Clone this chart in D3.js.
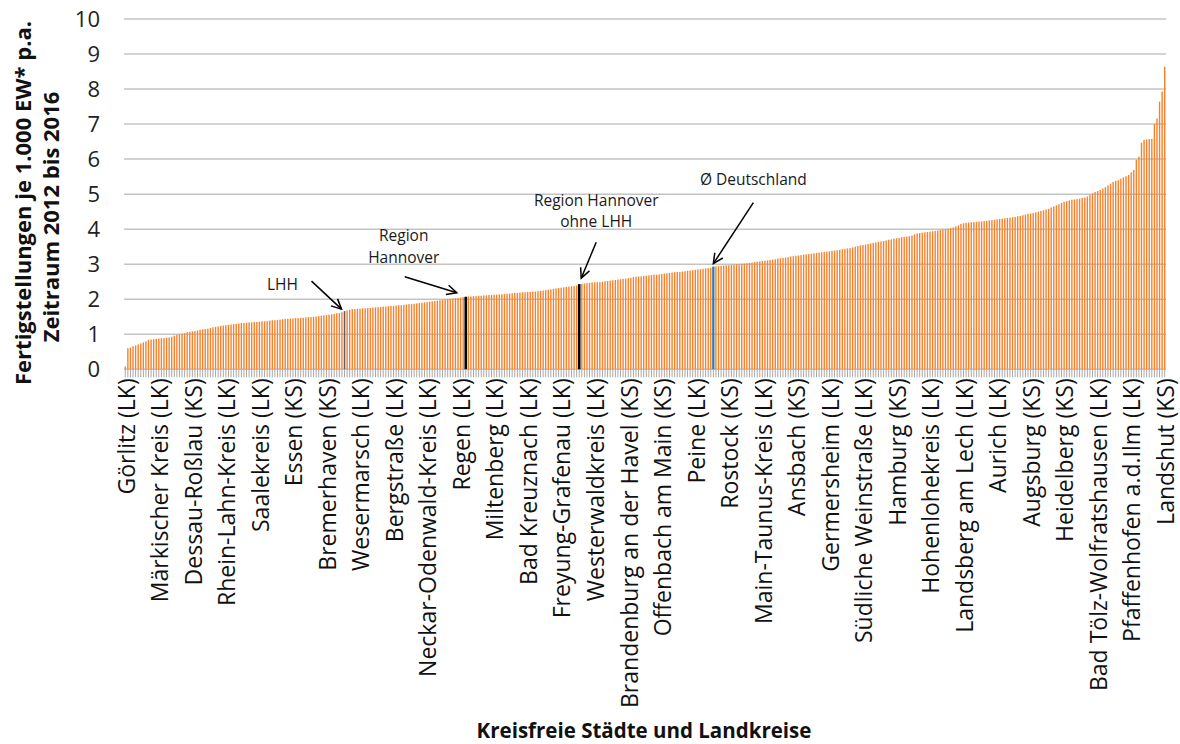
<!DOCTYPE html>
<html>
<head>
<meta charset="utf-8">
<script src="https://cdn.jsdelivr.net/npm/d3@7"></script>
<style>
  body { margin: 0; background: #fff; }
  svg text { font-family: "Open Sans", sans-serif; }
</style>
</head>
<body>
<svg id="chart" width="1180" height="744"></svg>
<script>
// tick labels, one every 13th bar
var tickLabels = ["Görlitz (LK)", "Märkischer Kreis (LK)", "Dessau-Roßlau (KS)", "Rhein-Lahn-Kreis (LK)",
  "Saalekreis (LK)", "Essen (KS)", "Bremerhaven (KS)", "Wesermarsch (LK)", "Bergstraße (LK)",
  "Neckar-Odenwald-Kreis (LK)", "Regen (LK)", "Miltenberg (LK)", "Bad Kreuznach (LK)",
  "Freyung-Grafenau (LK)", "Westerwaldkreis (LK)", "Brandenburg an der Havel (KS)",
  "Offenbach am Main (KS)", "Peine (LK)", "Rostock (KS)", "Main-Taunus-Kreis (LK)", "Ansbach (KS)",
  "Germersheim (LK)", "Südliche Weinstraße (LK)", "Hamburg (KS)", "Hohenlohekreis (LK)",
  "Landsberg am Lech (LK)", "Aurich (LK)", "Augsburg (KS)", "Heidelberg (KS)",
  "Bad Tölz-Wolfratshausen (LK)", "Pfaffenhofen a.d.Ilm (LK)", "Landshut (KS)"];

// Fertigstellungen je 1.000 EW p.a., sorted
var values = [
  0.08, 0.60, 0.62, 0.66, 0.68, 0.71, 0.74, 0.77, 0.80, 0.84, 0.85, 0.86, 0.87,
  0.88, 0.89, 0.89, 0.90, 0.91, 0.93, 0.96, 0.98, 1.00, 1.01, 1.03, 1.06, 1.07,
  1.08, 1.09, 1.11, 1.13, 1.14, 1.15, 1.16, 1.18, 1.20, 1.21, 1.22, 1.24, 1.25,
  1.26, 1.27, 1.28, 1.29, 1.30, 1.31, 1.32, 1.32, 1.33, 1.34, 1.34, 1.35, 1.35,
  1.36, 1.37, 1.37, 1.38, 1.39, 1.40, 1.40, 1.41, 1.42, 1.43, 1.44, 1.44, 1.45,
  1.45, 1.46, 1.46, 1.47, 1.47, 1.48, 1.49, 1.49, 1.50, 1.51, 1.52, 1.53, 1.54,
  1.55, 1.56, 1.57, 1.58, 1.60, 1.61, 1.63, 1.66, 1.68, 1.70, 1.72, 1.72, 1.73,
  1.73, 1.74, 1.74, 1.75, 1.75, 1.76, 1.77, 1.77, 1.78, 1.79, 1.79, 1.80, 1.81,
  1.81, 1.82, 1.83, 1.83, 1.84, 1.85, 1.86, 1.86, 1.87, 1.88, 1.89, 1.90, 1.91,
  1.92, 1.93, 1.94, 1.95, 1.96, 1.97, 1.98, 1.99, 2.00, 2.01, 2.02, 2.03, 2.04,
  2.05, 2.06, 2.07, 2.08, 2.08, 2.09, 2.09, 2.10, 2.10, 2.11, 2.11, 2.12, 2.12,
  2.13, 2.13, 2.14, 2.14, 2.15, 2.16, 2.16, 2.17, 2.18, 2.18, 2.19, 2.20, 2.20,
  2.21, 2.21, 2.22, 2.22, 2.23, 2.24, 2.25, 2.26, 2.27, 2.28, 2.30, 2.31, 2.32,
  2.33, 2.34, 2.35, 2.36, 2.37, 2.38, 2.39, 2.43, 2.44, 2.45, 2.46, 2.47, 2.48,
  2.48, 2.49, 2.49, 2.50, 2.51, 2.52, 2.53, 2.54, 2.55, 2.56, 2.57, 2.58, 2.59,
  2.60, 2.61, 2.63, 2.64, 2.65, 2.65, 2.66, 2.67, 2.68, 2.69, 2.70, 2.70, 2.71,
  2.72, 2.73, 2.74, 2.75, 2.76, 2.77, 2.78, 2.78, 2.79, 2.80, 2.81, 2.82, 2.83,
  2.84, 2.85, 2.86, 2.87, 2.88, 2.89, 2.90, 2.93, 2.94, 2.95, 2.95, 2.96, 2.97,
  2.97, 2.98, 2.99, 3.00, 3.00, 3.01, 3.02, 3.03, 3.04, 3.05, 3.06, 3.07, 3.08,
  3.09, 3.10, 3.11, 3.12, 3.13, 3.14, 3.16, 3.17, 3.18, 3.19, 3.20, 3.22, 3.23,
  3.24, 3.25, 3.26, 3.27, 3.28, 3.29, 3.30, 3.31, 3.32, 3.33, 3.34, 3.35, 3.36,
  3.37, 3.38, 3.39, 3.40, 3.41, 3.43, 3.44, 3.45, 3.46, 3.48, 3.50, 3.52, 3.54,
  3.55, 3.56, 3.58, 3.59, 3.61, 3.62, 3.64, 3.65, 3.66, 3.68, 3.70, 3.71, 3.73,
  3.74, 3.75, 3.77, 3.78, 3.79, 3.80, 3.82, 3.85, 3.88, 3.89, 3.90, 3.91, 3.92,
  3.93, 3.94, 3.95, 3.96, 3.98, 3.99, 4.00, 4.01, 4.03, 4.05, 4.08, 4.11, 4.15,
  4.17, 4.18, 4.19, 4.20, 4.20, 4.21, 4.22, 4.22, 4.23, 4.24, 4.25, 4.26, 4.27,
  4.28, 4.29, 4.30, 4.31, 4.32, 4.33, 4.34, 4.35, 4.37, 4.38, 4.40, 4.42, 4.44,
  4.45, 4.46, 4.48, 4.50, 4.52, 4.54, 4.56, 4.58, 4.62, 4.65, 4.68, 4.71, 4.75,
  4.78, 4.80, 4.82, 4.84, 4.85, 4.86, 4.87, 4.89, 4.90, 4.93, 4.98, 5.02, 5.06,
  5.09, 5.12, 5.16, 5.20, 5.25, 5.30, 5.35, 5.38, 5.40, 5.44, 5.48, 5.51, 5.55,
  5.62, 5.69, 5.98, 6.07, 6.47, 6.55, 6.56, 6.57, 6.58, 7.00, 7.16, 7.64, 7.93,
  8.64
];

var yTicks = [0, 1, 2, 3, 4, 5, 6, 7, 8, 9, 10];

// marked bars
var markIndex = [85, 132, 176, 228];
var markLines = [["LHH"], ["Region", "Hannover"], ["Region Hannover", "ohne LHH"], ["Ø Deutschland"]];

var svg = d3.select("#chart");
var plotLeft = 124, plotRight = 1166, plotTop = 19, plotBottom = 369.3;

var x = d3.scaleBand()
  .domain(d3.range(values.length))
  .range([plotLeft, plotRight]);

var y = d3.scaleLinear()
  .domain([0, 10])
  .range([plotBottom, plotTop]);

// gridlines
svg.append("g")
  .selectAll("line")
  .data(yTicks)
  .enter()
  .append("line")
  .attr("x1", plotLeft)
  .attr("x2", plotRight)
  .attr("y1", function(d) { return y(d); })
  .attr("y2", function(d) { return y(d); })
  .attr("stroke", "#c4c4c4")
  .attr("stroke-width", 1.5);

// y labels
svg.append("g")
  .selectAll("text")
  .data(yTicks)
  .enter()
  .append("text")
  .attr("x", 100)
  .attr("y", function(d) { return y(d); })
  .attr("dy", "0.36em")
  .attr("text-anchor", "end")
  .style("font-size", "22px")
  .style("fill", "#222")
  .text(function(d) { return d; });

// bars
var bw = x.bandwidth();
var barW = 1.4;
svg.append("g")
  .selectAll("rect")
  .data(values)
  .enter()
  .append("rect")
  .attr("x", function(d, i) { return x(i) + (bw - barW) / 2; })
  .attr("width", barW)
  .attr("y", function(d) { return y(d); })
  .attr("height", function(d) { return y(0) - y(d); })
  .attr("fill", "#f6812c");

// marked bars on top
var markStyle = [
  { fill: "#56616d", w: 1.4 },
  { fill: "#000", w: 2.6 },
  { fill: "#000", w: 2.6 },
  { fill: "#2e75b6", w: 2.2 }
];
svg.append("g")
  .selectAll("rect")
  .data(markIndex)
  .enter()
  .append("rect")
  .attr("x", function(d, i) { return x(d) + (bw - markStyle[i].w) / 2; })
  .attr("width", function(d, i) { return markStyle[i].w; })
  .attr("y", function(d) { return y(values[d]); })
  .attr("height", function(d) { return y(0) - y(values[d]); })
  .attr("fill", function(d, i) { return markStyle[i].fill; });

// category ticks
var axis = svg.append("g")
  .attr("transform", "translate(0," + plotBottom + ")")
  .call(d3.axisBottom(x).tickSize(8).tickFormat(""));
axis.select(".domain").remove();
axis.selectAll(".tick line").attr("stroke", "#a8a8a8");

// category labels (every 13th)
svg.append("g")
  .selectAll("text")
  .data(tickLabels)
  .enter()
  .append("text")
  .attr("transform", function(d, i) {
    return "translate(" + (x(i * 13) + bw / 2 + 1) + "," + (plotBottom + 9) + ")rotate(-90)";
  })
  .attr("dy", "0.36em")
  .attr("text-anchor", "end")
  .style("font-size", "23px")
  .style("fill", "#111")
  .text(function(d) { return d; });

// annotations: offsets relative to the bar top
var notePos = [
  { tx: -62, ty: -27, sx: -33, sy: -30, ex: -3, ey: -2 },
  { tx: -62, ty: -61, sx: -61, sy: -20, ex: -9, ey: -4 },
  { tx: 17, ty: -84, sx: 17, sy: -42, ex: 2, ey: -6 },
  { tx: 40, ty: -87, sx: 40, sy: -64, ex: 0, ey: -3 }
];

var notes = svg.append("g");
markIndex.forEach(function(idx, i) {
  var bx = x(idx) + bw / 2, by = y(values[idx]);
  var p = notePos[i];
  var t = notes.append("text")
    .attr("text-anchor", "middle")
    .style("font-size", "15.5px")
    .style("fill", "#1a1a1a");
  markLines[i].forEach(function(line, j) {
    t.append("tspan")
      .attr("x", bx + p.tx)
      .attr("y", by + p.ty + j * 21.5)
      .attr("dy", "0.35em")
      .text(line);
  });
  var sx = bx + p.sx, sy = by + p.sy, ex = bx + p.ex, ey = by + p.ey;
  var ang = Math.atan2(ey - sy, ex - sx), hl = 11, ha = 0.45;
  notes.append("line")
    .attr("x1", sx).attr("y1", sy).attr("x2", ex).attr("y2", ey)
    .attr("stroke", "#000").attr("stroke-width", 1.5);
  notes.append("path")
    .attr("d", "M" + (ex - hl * Math.cos(ang - ha)) + "," + (ey - hl * Math.sin(ang - ha)) +
      "L" + ex + "," + ey +
      "L" + (ex - hl * Math.cos(ang + ha)) + "," + (ey - hl * Math.sin(ang + ha)))
    .attr("fill", "none")
    .attr("stroke", "#000")
    .attr("stroke-width", 1.5);
});

// axis titles
var yTitle = svg.append("text")
  .attr("transform", "translate(0,203)rotate(-90)")
  .attr("text-anchor", "middle")
  .style("font-size", "22px")
  .style("font-weight", "bold")
  .style("fill", "#111");
yTitle.append("tspan").attr("x", 0).attr("y", 31).text("Fertigstellungen je 1.000 EW* p.a.");
yTitle.append("tspan").attr("x", -14).attr("y", 59).text("Zeitraum 2012 bis 2016");

svg.append("text")
  .attr("x", 644)
  .attr("y", 738)
  .attr("text-anchor", "middle")
  .style("font-size", "20.5px")
  .style("font-weight", "bold")
  .style("fill", "#111")
  .text("Kreisfreie Städte und Landkreise");
</script>
</body>
</html>
